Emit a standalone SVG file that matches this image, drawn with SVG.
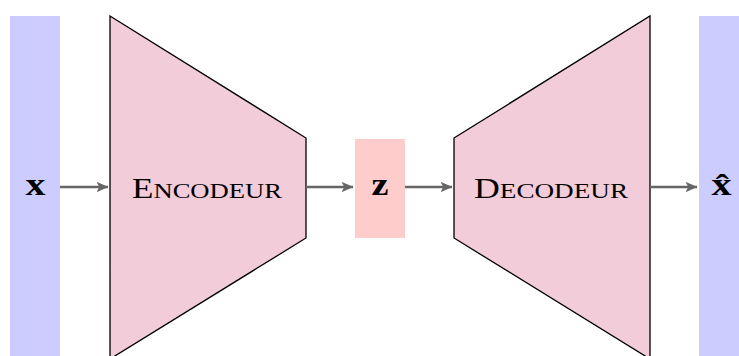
<svg xmlns="http://www.w3.org/2000/svg" width="739" height="356" viewBox="0 0 739 356">
<style>
.bar{fill:#ccccff}
.net{fill:#f2ccd9;stroke:#000;stroke-width:1.3;stroke-linejoin:miter}
.lat{fill:#ffcccc}
.lbl{font-family:"Liberation Serif","DejaVu Serif",serif;fill:#000}
.b{font-weight:bold;font-size:31px}
.conn{stroke:#666;stroke-width:2.6;fill:none;marker-end:url(#ah)}
</style>
<defs>
<marker id="ah" viewBox="0 0 12 12" refX="11.5" refY="6" markerUnits="userSpaceOnUse" markerWidth="12" markerHeight="12" orient="auto">
<path d="M0,0.8 L12,6 L0,11.2 L2.8,6 Z" fill="#666"/>
</marker>
</defs>
<rect width="739" height="356" fill="#fff"/>
<g id="x">
<rect class="bar" x="10" y="16" width="50" height="342"/>
<text class="lbl b" x="25.5" y="195" textLength="20" lengthAdjust="spacingAndGlyphs">x</text>
</g>
<g id="encoder">
<polygon class="net" points="110,16 306,138 306,238 110,359"/>
<text class="lbl" x="132" y="197.7" textLength="150" lengthAdjust="spacingAndGlyphs"><tspan font-size="29">E</tspan><tspan font-size="22">NCODEUR</tspan></text>
</g>
<g id="z">
<rect class="lat" x="355" y="139" width="50" height="99"/>
<text class="lbl b" x="371.5" y="195" textLength="17" lengthAdjust="spacingAndGlyphs">z</text>
</g>
<g id="decoder">
<polygon class="net" points="454,138 650,16 650,359 454,238"/>
<text class="lbl" x="474" y="197.7" textLength="154" lengthAdjust="spacingAndGlyphs"><tspan font-size="29">D</tspan><tspan font-size="22">ECODEUR</tspan></text>
</g>
<g id="xhat">
<rect class="bar" x="699" y="16" width="50" height="342"/>
<text class="lbl b" x="711.5" y="195" textLength="20" lengthAdjust="spacingAndGlyphs">x̂</text>
</g>
<g id="connectors">
<line class="conn" x1="60" y1="187" x2="108" y2="187"/>
<line class="conn" x1="306" y1="187" x2="353" y2="187"/>
<line class="conn" x1="405" y1="187" x2="452" y2="187"/>
<line class="conn" x1="650" y1="187" x2="697" y2="187"/>
</g>
</svg>
